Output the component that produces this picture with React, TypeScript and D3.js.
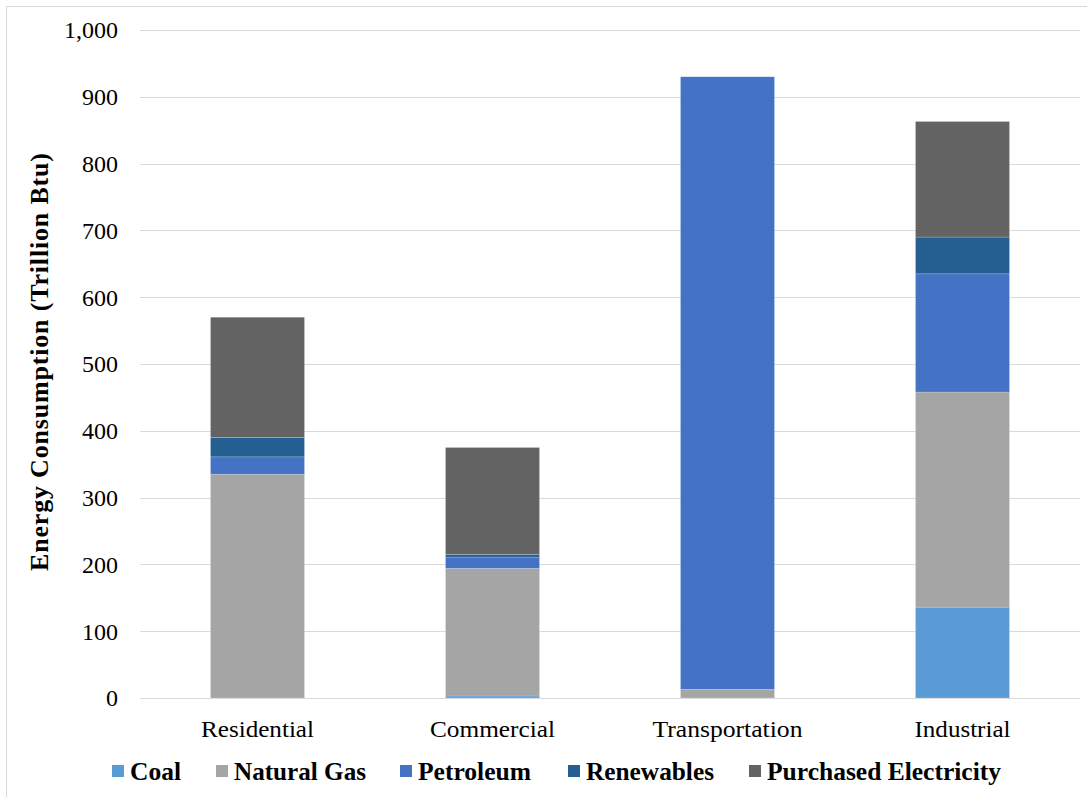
import React from "react";
import * as d3 from "d3";

const categories = ["Residential", "Commercial", "Transportation", "Industrial"];
const seriesNames = ["Coal", "Natural Gas", "Petroleum", "Renewables", "Purchased Electricity"];
const coal = [0, 3, 0, 136];
const naturalGas = [335, 191, 13, 322];
const petroleum = [26, 17, 917, 177];
const renewables = [29, 4, 0, 55];
const electricity = [180, 160, 0, 173];
const yTicks = [0, 100, 200, 300, 400, 500, 600, 700, 800, 900, 1000];
const colors = ["#5B9BD5", "#A5A5A5", "#4472C4", "#255E91", "#636363"];

const W = 1087;
const H = 797;
const FONT = "'Liberation Serif', 'Times New Roman', serif";

export default function App() {
  const seriesValues = [coal, naturalGas, petroleum, renewables, electricity];
  const rows = categories.map((c, i) => {
    const r: any = { category: c };
    seriesNames.forEach((s, j) => (r[s] = seriesValues[j][i]));
    return r;
  });
  const stacked = d3.stack().keys(seriesNames)(rows);

  const x = d3.scaleBand().domain(categories).range([140, 1080]).paddingInner(0.6).paddingOuter(0.3);
  const y = d3.scaleLinear().domain([0, 1000]).range([698, 30]);
  const fmt = d3.format(",");

  // layout helpers (pixel layout, not data)
  const catWidths = [113, 125, 150, 96];
  const legendX = [112, 216, 400, 568, 749];
  const legendW = [51, 132, 113, 128, 234];

  return (
    <svg width={W} height={H} style={{ position: "absolute", left: 0, top: 0, background: "#fff" }} fontFamily={FONT}>
      <rect x={6.5} y={6.5} width={W + 20} height={H + 20} fill="#fff" stroke="#d9d9d9" strokeWidth={1} />
      {yTicks.map((t) => (
        <g key={t}>
          <line x1={140} x2={1080} y1={Math.round(y(t)) + 0.5} y2={Math.round(y(t)) + 0.5} stroke="#d9d9d9" strokeWidth={1} />
          <text x={118} y={y(t)} dy="0.35em" textAnchor="end" fontSize={24} fill="#000">
            {fmt(t)}
          </text>
        </g>
      ))}
      {stacked.map((s, si) => (
        <g key={s.key} fill={colors[si]}>
          {s.map((d: any, i: number) => {
            const h = y(d[0]) - y(d[1]);
            if (h <= 0) return null;
            return (
              <rect
                key={i}
                x={x(categories[i])!}
                width={x.bandwidth()}
                y={y(d[1])}
                height={h}
                stroke="rgba(255,255,255,0.25)"
                strokeWidth={0.75}
              />
            );
          })}
        </g>
      ))}
      {categories.map((c, i) => (
        <text
          key={c}
          x={x(c)! + x.bandwidth() / 2}
          y={737}
          textAnchor="middle"
          fontSize={24}
          textLength={catWidths[i]}
          lengthAdjust="spacingAndGlyphs"
          fill="#000"
        >
          {c}
        </text>
      ))}
      <text
        transform={`translate(48,362) rotate(-90)`}
        textAnchor="middle"
        fontSize={26}
        fontWeight="bold"
        textLength={418}
        lengthAdjust="spacing"
        fill="#000"
      >
        Energy Consumption (Trillion Btu)
      </text>
      {seriesNames.map((s, i) => (
        <g key={s} transform={`translate(${legendX[i]},771)`}>
          <rect x={0} y={-6} width={12} height={12} fill={colors[i]} />
          <text
            x={18}
            y={0}
            dy="0.35em"
            fontSize={26}
            fontWeight="bold"
            textLength={legendW[i]}
            lengthAdjust="spacingAndGlyphs"
            fill="#000"
          >
            {s}
          </text>
        </g>
      ))}
    </svg>
  );
}
